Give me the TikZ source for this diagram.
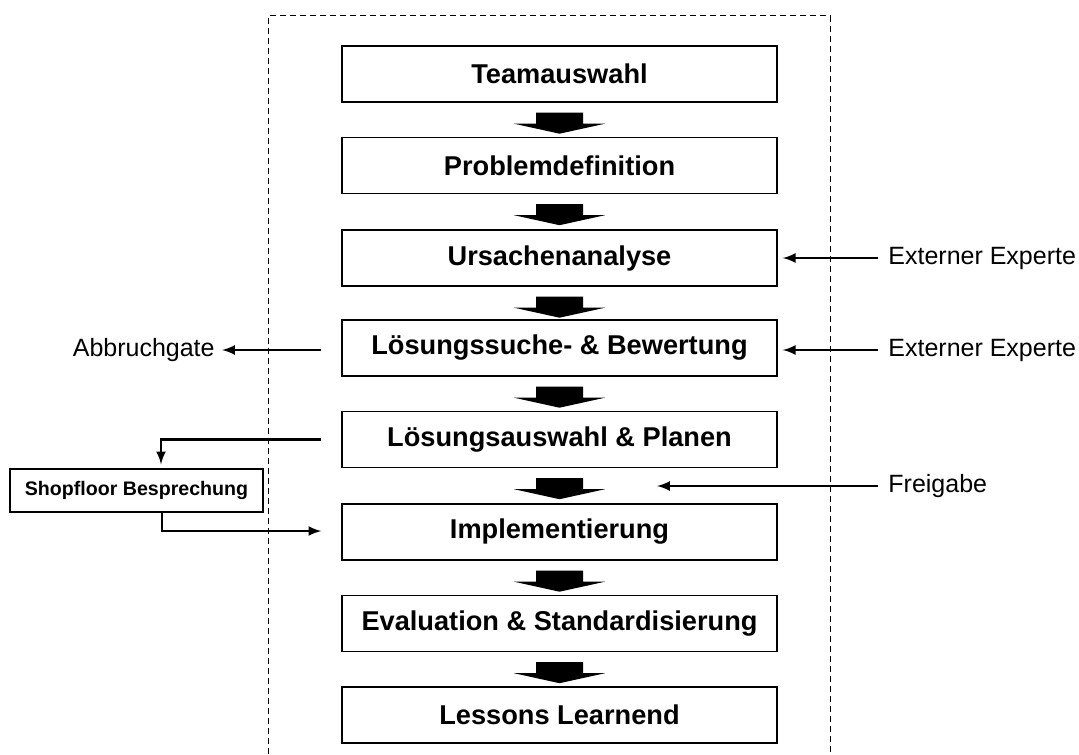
\documentclass[tikz,border=0pt]{standalone}
\usepackage{fontspec}
\setmainfont{Liberation Sans}
\usetikzlibrary{calc}

\begin{document}
\begin{tikzpicture}[x=0.5pt,y=-0.5pt,>=latex,
	stepbox/.style={draw, line width=0.7pt, minimum width=217.5pt, minimum height=28pt, inner sep=0pt, font=\bfseries\fontsize{13.6}{16}\selectfont},
	sidetext/.style={inner ysep=0pt, font=\fontsize{12.5}{15}\selectfont},
	flow/.style={->, line width=1.2pt}]
	\useasboundingbox (0,0) rectangle (1079,754);
	%% ========================================================
	\draw[dash pattern=on 3pt off 2pt, line width=0.5pt] (268,754) -- (268,16) -- (830,16) -- (830,754);

	\node[stepbox] (team)    at (559.5,74)    {Teamauswahl};
	\node[stepbox] (prob)    at (559.5,165.5) {Problemdefinition};
	\node[stepbox] (ursache) at (559.5,258)   {Ursachenanalyse};
	\node[stepbox] (suche)   at (559.5,348)   {Lösungssuche- \& Bewertung};
	\node[stepbox] (plan)    at (559.5,439.5) {Lösungsauswahl \& Planen};
	\node[stepbox] (impl)    at (559.5,532)   {Implementierung};
	\node[stepbox] (eval)    at (559.5,623.5) {Evaluation \& Standardisierung};
	\node[stepbox] (lessons) at (559.5,715)   {Lessons Learnend};

	\foreach \a in {team,prob,ursache,suche,plan,impl,eval}
		\fill ($(\a.south)+(-23.5,10)$) -- ++(47,0) -- ++(0,11) -- ++(22,0) -- ($(\a.south)+(0,31)$)
			-- ($(\a.south)+(-45.5,21)$) -- ++(22,0) -- cycle;
	%% ========================================================
	\node[sidetext, anchor=west, inner xsep=5pt] (ext1) at (878,258) {Externer Experte};
	\node[sidetext, anchor=west, inner xsep=5pt] (ext2) at (878,350) {Externer Experte};
	\node[sidetext, anchor=west, inner xsep=5pt] (frei) at (878,486) {Freigabe};
	\node[sidetext, anchor=east, inner xsep=3.5pt] (abbruch) at (222,350) {Abbruchgate};
	\node[draw, line width=0.7pt, minimum width=126.5pt, minimum height=21.5pt, inner sep=0pt,
		font=\bfseries\fontsize{9.8}{12}\selectfont] (shop) at (136.5,490.5) {Shopfloor Besprechung};

	\coordinate (frei end) at (657,486);
	\coordinate (abb start) at ($(suche.west)+(-20,2)$);
	\coordinate (shop start) at ($(plan.west)+(-20,0)$);
	\coordinate (impl in) at ($(impl.west)+(-20,-1)$);

	\draw[flow, shorten >=2.5pt] (ext1.west) -- (ursache.east);
	\draw[flow, shorten >=2.5pt] (ext2.west) -- (suche.east |- ext2.west);
	\draw[flow] (frei.west) -- (frei end);
	\draw[flow] (abb start) -- (abbruch.east);
	\draw[flow, shorten >=2pt] (shop start) -| ([xshift=12.25pt]shop.north);
	\draw[flow] ([xshift=12.75pt]shop.south) |- (impl in);
	%% ========================================================
\end{tikzpicture}
\end{document}
